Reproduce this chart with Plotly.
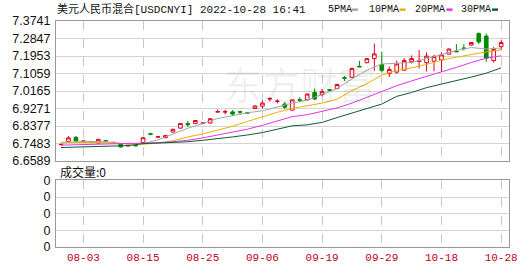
import plotly.graph_objects as go

dates = ["07-29", "08-01", "08-02", "08-03", "08-04", "08-05", "08-08", "08-09", "08-10", "08-11",
         "08-12", "08-15", "08-16", "08-17", "08-18", "08-19", "08-22", "08-23", "08-24", "08-25",
         "08-26", "08-29", "08-30", "08-31", "09-01", "09-02", "09-05", "09-06", "09-07", "09-08",
         "09-09", "09-13", "09-14", "09-15", "09-16", "09-19", "09-20", "09-21", "09-22", "09-23",
         "09-26", "09-27", "09-28", "09-29", "09-30", "10-10", "10-11", "10-12", "10-13", "10-14",
         "10-17", "10-18", "10-19", "10-20", "10-21", "10-24", "10-25", "10-26", "10-27", "10-28"]

opens = [6.7425, 6.7575, 6.7800, 6.7580, 6.7570, 6.7510, 6.7630, 6.7520, 6.7450, 6.7360,
         6.7390, 6.7535, 6.7980, 6.7810, 6.7780, 6.8070, 6.8270, 6.8510, 6.8510, 6.8510,
         6.8530, 6.9090, 6.9090, 6.9100, 6.9110, 6.9060, 6.9270, 6.9390, 6.9755, 6.9630,
         6.9500, 6.9190, 6.9720, 6.9710, 7.0090, 6.9980, 7.0230, 7.0290, 7.0840, 7.0860,
         7.1420, 7.1610, 7.1820, 7.1520, 7.1050, 7.1130, 7.1230, 7.1660, 7.1670, 7.1610,
         7.1690, 7.1750, 7.2050, 7.2190, 7.2360, 7.2510, 7.3100, 7.2970, 7.1720, 7.2430]
highs = [6.7480, 6.7870, 6.7870, 6.7640, 6.7600, 6.7720, 6.7670, 6.7570, 6.7510, 6.7410,
         6.7420, 6.7800, 6.8030, 6.7860, 6.7920, 6.8240, 6.8530, 6.8640, 6.8690, 6.8580,
         6.8780, 6.9220, 6.9200, 6.9190, 6.9120, 6.9080, 6.9430, 6.9680, 6.9850, 6.9750,
         6.9600, 6.9740, 6.9850, 7.0040, 7.0290, 7.0270, 7.0240, 7.0530, 7.0940, 7.1350,
         7.1710, 7.1840, 7.2590, 7.2180, 7.1410, 7.1720, 7.1850, 7.1980, 7.2260, 7.2140,
         7.2010, 7.2140, 7.2340, 7.2560, 7.2560, 7.2660, 7.3160, 7.3100, 7.2410, 7.2760]
lows = [6.7390, 6.7525, 6.7550, 6.7550, 6.7520, 6.7490, 6.7570, 6.7500, 6.7280, 6.7340,
        6.7350, 6.7520, 6.7900, 6.7780, 6.7760, 6.8050, 6.8250, 6.8340, 6.8490, 6.8460,
        6.8510, 6.9080, 6.8970, 6.8890, 6.8940, 6.9020, 6.9250, 6.9270, 6.9630, 6.9530,
        6.9240, 6.9160, 6.9600, 6.9690, 6.9710, 6.9890, 7.0130, 7.0260, 7.0670, 7.0840,
        7.1390, 7.1590, 7.1190, 7.1110, 7.0880, 7.1050, 7.1200, 7.1570, 7.1320, 7.1160,
        7.1180, 7.1160, 7.2030, 7.2160, 7.2230, 7.2490, 7.2560, 7.1660, 7.1620, 7.2260]
closes = [6.7435, 6.7772, 6.7610, 6.7610, 6.7550, 6.7700, 6.7610, 6.7540, 6.7310, 6.7390,
          6.7370, 6.7780, 6.7960, 6.7830, 6.7890, 6.8210, 6.8510, 6.8440, 6.8660, 6.8530,
          6.8750, 6.9110, 6.9110, 6.8990, 6.9090, 6.9040, 6.9400, 6.9550, 6.9780, 6.9650,
          6.9340, 6.9710, 6.9700, 7.0010, 6.9760, 7.0130, 7.0210, 7.0500, 7.0820, 7.1320,
          7.1400, 7.1820, 7.2060, 7.1220, 7.1270, 7.1550, 7.1720, 7.1820, 7.1710, 7.1950,
          7.1930, 7.2010, 7.2310, 7.2170, 7.2340, 7.2640, 7.2670, 7.1840, 7.2290, 7.2640]

ma_dates = ["07-29", "08-03", "08-08", "08-11", "08-15", "08-17", "08-19", "08-23", "08-25",
            "08-29", "08-31", "09-02", "09-06", "09-08", "09-13", "09-15", "09-19", "09-21",
            "09-23", "09-27", "09-29", "10-10", "10-12", "10-14", "10-18", "10-20", "10-24",
            "10-26", "10-28"]
ma5 = [6.7501, 6.7599, 6.7575, 6.7451, 6.7476, 6.7673, 6.7969, 6.8265, 6.8512,
       6.8759, 6.8907, 6.9055, 6.9153, 6.9351, 6.9548, 6.9696, 6.9992, 7.0288,
       7.0781, 7.1225, 7.1546, 7.1571, 7.1620, 7.1817, 7.2015, 7.2237, 7.2384,
       7.2310, 7.2360]
ma10 = [6.7550, 6.7550, 6.7525, 6.7476, 6.7451, 6.7501, 6.7624, 6.7821, 6.7969,
        6.8167, 6.8364, 6.8611, 6.8857, 6.9079, 6.9277, 6.9400, 6.9548, 6.9745,
        7.0189, 7.0535, 7.0979, 7.1225, 7.1349, 7.1521, 7.1743, 7.1891, 7.2039,
        7.2163, 7.2261]
ma20 = [6.7402, 6.7427, 6.7451, 6.7466, 6.7501, 6.7525, 6.7575, 6.7649, 6.7772,
        6.7920, 6.8043, 6.8216, 6.8414, 6.8635, 6.8857, 6.8956, 6.9129, 6.9301,
        6.9548, 6.9844, 7.0115, 7.0436, 7.0683, 7.0905, 7.1127, 7.1373, 7.1620,
        7.1842, 7.1965]
ma30 = [6.7279, 6.7304, 6.7328, 6.7377, 6.7476, 6.7501, 6.7550, 6.7575, 6.7649,
        6.7723, 6.7821, 6.7920, 6.8043, 6.8216, 6.8389, 6.8438, 6.8561, 6.8808,
        6.9030, 6.9252, 6.9499, 6.9893, 7.0091, 7.0337, 7.0510, 7.0707, 7.0880,
        7.1077, 7.1349]

y_ticks = [7.3741, 7.2847, 7.1953, 7.1059, 7.0165, 6.9271, 6.8377, 6.7483, 6.6589]
x_ticks = ["08-03", "08-15", "08-25", "09-06", "09-19", "09-29", "10-18", "10-28"]
vol_ticks = [0, 1, 2, 3, 4]
vol_labels = ["0", "0", "0", "0", "0"]
volume_total = "0"

title_text = "美元人民币混合[USDCNYI] 2022-10-28 16:41"
legend_names = ["5PMA", "10PMA", "20PMA", "30PMA"]
legend_colors = ["#a6a6a6", "#f0b000", "#e632e6", "#0d5c33"]

W, H = 530, 276
ML, MR, MT, MB = 56, 21, 21, 21
PW, PH = W - ML - MR, H - MT - MB


def px_x(x):
    return (x - ML) / PW


def px_y(y):
    return (H - MB - y) / PH


fig = go.Figure()

fig.add_trace(go.Candlestick(
    x=dates, open=opens, high=highs, low=lows, close=closes,
    increasing=dict(line=dict(color="#e0001a", width=1), fillcolor="#ffffff"),
    decreasing=dict(line=dict(color="#008a00", width=1), fillcolor="#008a00"),
    whiskerwidth=0, showlegend=False, hoverinfo="skip",
    xaxis="x", yaxis="y",
))

for name, vals, col in zip(legend_names, [ma5, ma10, ma20, ma30], legend_colors):
    fig.add_trace(go.Scatter(x=ma_dates, y=vals, mode="lines", name=name,
                             line=dict(color=col, width=1), showlegend=False,
                             hoverinfo="skip", xaxis="x", yaxis="y"))

fig.add_trace(go.Bar(x=dates, y=[0] * len(dates), marker_color="#888",
                     showlegend=False, xaxis="x2", yaxis="y2", hoverinfo="skip"))

xr = [-0.67, 60.05]
common_x = dict(type="category", categoryorder="array", categoryarray=dates, range=xr,
                tickmode="array", tickvals=x_ticks, showgrid=True, gridcolor="#c8c8c8",
                griddash="dash", gridwidth=1, showline=True, mirror=True,
                linecolor="#999999", linewidth=1, zeroline=False, ticks="",
                fixedrange=True)

fig.update_layout(
    width=W, height=H,
    margin=dict(l=ML, r=MR, t=MT, b=MB, pad=0),
    paper_bgcolor="white", plot_bgcolor="white",
    showlegend=False,
    xaxis=dict(common_x, domain=[0, 1], anchor="y", showticklabels=False, rangeslider=dict(visible=False)),
    yaxis=dict(domain=[px_y(166), 1], range=[y_ticks[-1], y_ticks[0]], tickmode="array",
               tickvals=y_ticks, ticktext=[f"{v:.4f}" for v in y_ticks],
               showgrid=True, gridcolor="#d4d4d4", gridwidth=1, showline=True, mirror=True,
               linecolor="#999999", zeroline=False, ticks="",
               tickfont=dict(family="Liberation Sans, Arial", size=12.5, color="#111"),
               ticklabelstandoff=2),
    xaxis2=dict(common_x, domain=[0, 1], anchor="y2", matches="x", showticklabels=True,
                tickfont=dict(family="Liberation Mono, monospace", size=11, color="#c0001a")),
    yaxis2=dict(domain=[0, px_y(186)], range=[0, 4], tickmode="array", tickvals=vol_ticks,
                ticktext=vol_labels, showgrid=True, gridcolor="#d4d4d4", showline=True,
                mirror=True, linecolor="#999999", zeroline=False, ticks="",
                tickfont=dict(family="Liberation Sans, Arial", size=12.5, color="#111"),
                ticklabelstandoff=2),
    font=dict(family="Liberation Sans, Noto Sans CJK SC"),
)

ann = []
ann.append(dict(text="东方财富", x=px_x(300), y=px_y(85), xref="paper", yref="paper",
                showarrow=False, font=dict(family="Noto Sans CJK SC", size=38, color="rgba(0,0,0,0.06)"),
                xanchor="center", yanchor="middle"))
ann.append(dict(text=title_text, x=px_x(55), y=px_y(9), xref="paper", yref="paper",
                showarrow=False, xanchor="left", yanchor="middle",
                font=dict(family="Liberation Mono, Noto Sans CJK SC", size=11, color="#111")))
leg_x = [326, 366.7, 412.7, 459]
mark_x = [352, 399.5, 446.5, 492]
for name, lx, mx, col in zip(legend_names, leg_x, mark_x, legend_colors):
    ann.append(dict(text=name, x=px_x(lx), y=px_y(9), xref="paper", yref="paper",
                    showarrow=False, xanchor="left", yanchor="middle",
                    font=dict(family="Liberation Mono, monospace", size=10, color="#111")))
    fig.add_shape(type="rect", xref="paper", yref="paper", x0=px_x(mx), x1=px_x(mx + 6),
                  y0=px_y(10.5), y1=px_y(8), fillcolor=col, line=dict(width=0))
ann.append(dict(text="成交量:" + volume_total, x=px_x(58), y=px_y(177), xref="paper", yref="paper",
                showarrow=False, xanchor="left", yanchor="middle",
                font=dict(family="Noto Sans CJK SC", size=12, color="#111")))
fig.update_layout(annotations=ann)

fig.write_html("out.html")
